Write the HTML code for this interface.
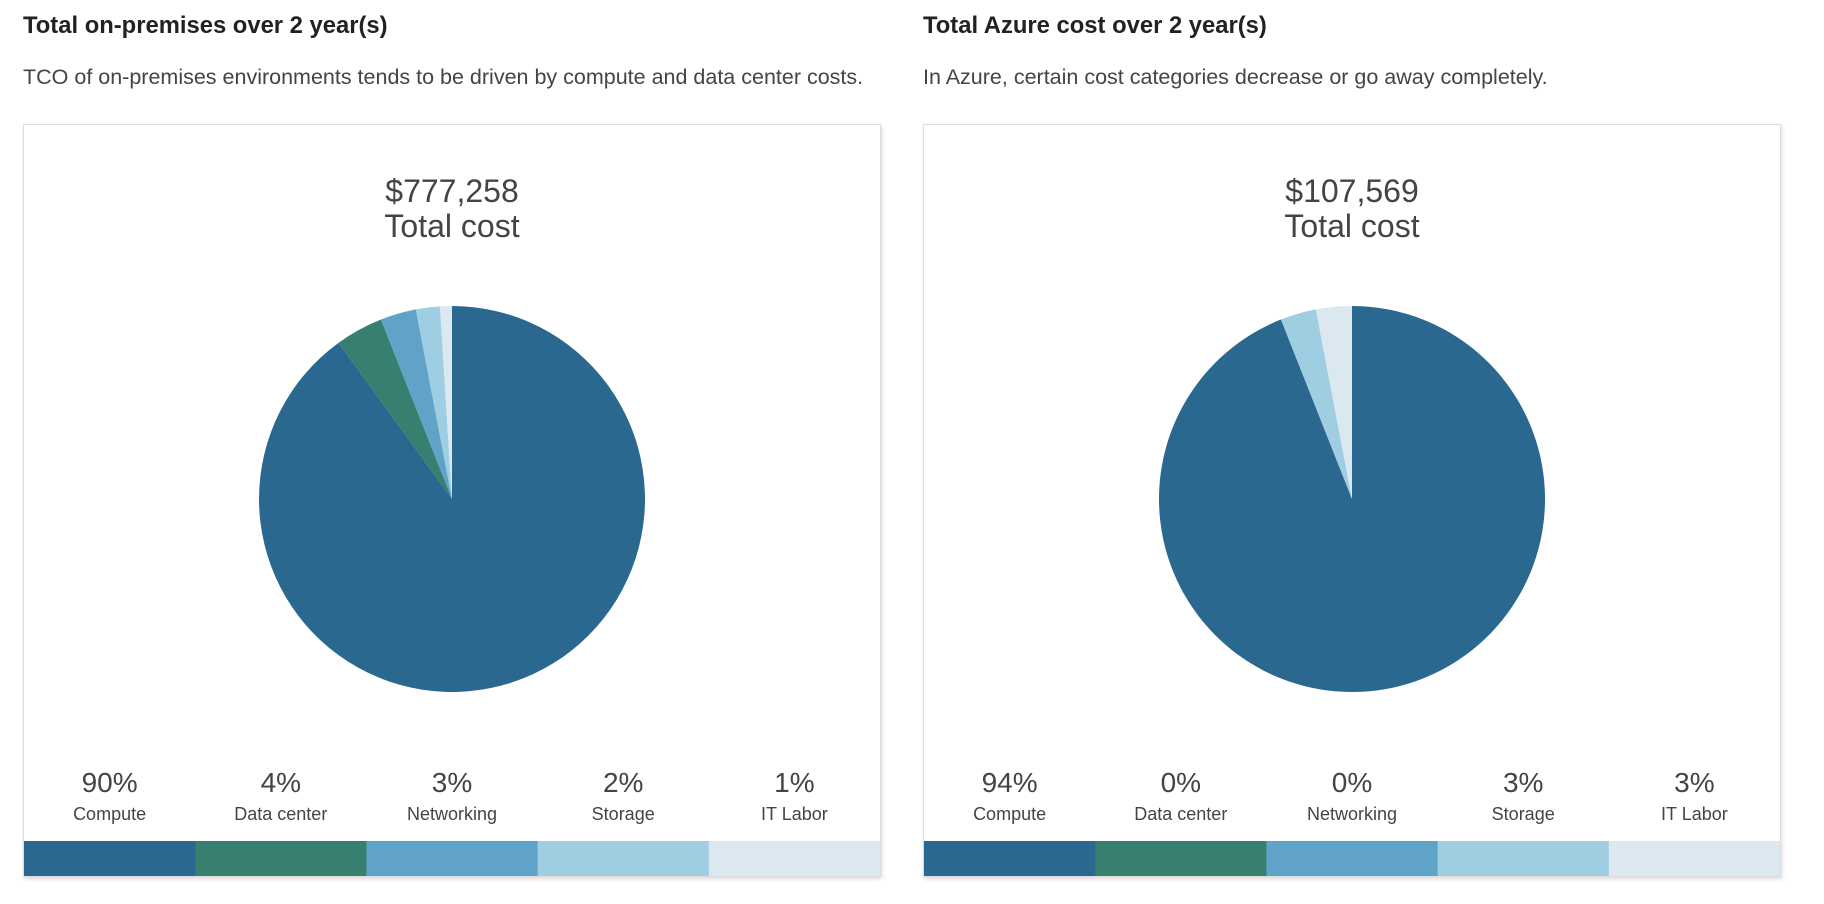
<!DOCTYPE html>
<html><head><meta charset="utf-8"><style>
body{margin:0;width:1824px;height:904px;background:#fff;font-family:"Liberation Sans",sans-serif;position:relative;overflow:hidden;color:#333}
.t{position:absolute;font-size:23.8px;font-weight:bold;color:#222}
.s{position:absolute;font-size:21.5px;color:#444}
.box{position:absolute;top:124px;width:856px;height:751px;border:1px solid #ddd;box-shadow:1px 2px 4px rgba(0,0,0,.15);background:#fff}
</style></head><body>
<div class="t" style="left:23px;top:12px">Total on-premises over 2 year(s)</div>
<div class="s" style="left:23px;top:65px">TCO of on-premises environments tends to be driven by compute and data center costs.</div>
<div class="t" style="left:923px;top:12px">Total Azure cost over 2 year(s)</div>
<div class="s" style="left:923px;top:65px">In Azure, certain cost categories decrease or go away completely.</div>
<div class="box" style="left:23px"><svg id="c0" width="856" height="751"></svg></div>
<div class="box" style="left:923px"><svg id="c1" width="856" height="751"></svg></div>
<script>
const categories=["Compute","Data center","Networking","Storage","IT Labor"];
const onPremValues=[90,4,3,2,1];
const azureValues=[94,0,0,3,3];
const totals=["$777,258","$107,569"];
const colors=["#2a6890","#378070","#5fa3c8","#9fcde1","#dbe8ef"];
const NS="http://www.w3.org/2000/svg";
function mk(svg,tag,attrs,txt){const e=document.createElementNS(NS,tag);for(const k in attrs)e.setAttribute(k,attrs[k]);if(txt!==undefined)e.textContent=txt;svg.appendChild(e);return e;}
function draw(id,vals,total,prefix){
  const svg=document.getElementById(id);
  let t=mk(svg,'text',{x:428,y:77,'text-anchor':'middle','font-size':32,fill:'#444'},total);
  
  t=mk(svg,'text',{x:428,y:112,'text-anchor':'middle','font-size':32,fill:'#444'},'Total cost');
  
  const cx=428,cy=374,r=193;const sum=vals.reduce((a,b)=>a+b,0);
  let a0=0;
  vals.forEach((v,i)=>{
    if(v<=0)return;
    const a1=a0+v/sum*2*Math.PI;
    const x0=cx+r*Math.sin(a0),y0=cy-r*Math.cos(a0),x1=cx+r*Math.sin(a1),y1=cy-r*Math.cos(a1);
    const large=(a1-a0)>Math.PI?1:0;
    const p=mk(svg,'path',{d:`M${cx},${cy}L${x0},${y0}A${r},${r} 0 ${large} 1 ${x1},${y1}Z`,fill:colors[i]});
    
    
    a0=a1;
  });
  const w=856/5;
  vals.forEach((v,i)=>{
    const x=w*i+w/2;
    let e=mk(svg,'text',{x:x,y:667,'text-anchor':'middle','font-size':28,fill:'#444'},Math.round(v/sum*100)+'%');
    
    e=mk(svg,'text',{x:x,y:695,'text-anchor':'middle','font-size':18,fill:'#444'},categories[i]);
    
    e=mk(svg,'rect',{x:w*i,y:716,width:w+0.5,height:35,fill:colors[i]});
    
  });
}
draw('c0',onPremValues,totals[0],'on-prem');
draw('c1',azureValues,totals[1],'azure');
</script>
</body></html>
